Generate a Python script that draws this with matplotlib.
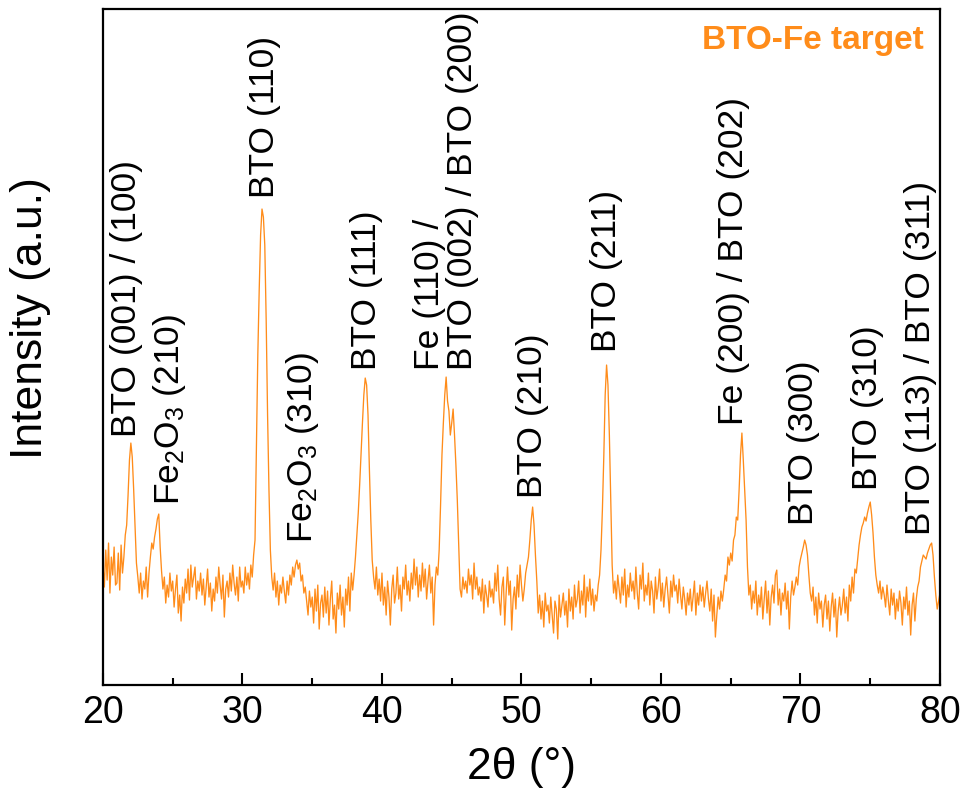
import numpy as np
import matplotlib
matplotlib.use("Agg")
import matplotlib.pyplot as plt
from matplotlib.ticker import MultipleLocator

# ---------------- data ----------------
two_theta = np.round(np.arange(20.0, 80.001, 0.1), 1)

intensity = [
    120, 98, 135, 105, 142, 92, 128, 110, 138, 100,      # 20
    102, 132, 95, 140, 112, 128, 150, 160, 190, 225,     # 21
    242, 228, 196, 160, 122, 108, 92, 112, 86, 104,      # 22
    96, 118, 88, 112, 128, 142, 136, 148, 156, 166,      # 23
    171, 138, 114, 96, 108, 82, 100, 88, 112, 94,        # 24
    104, 78, 96, 110, 72, 90, 64, 98, 82, 106,           # 25
    92, 116, 85, 120, 98, 108, 118, 86, 104, 94,         # 26
    112, 90, 106, 80, 98, 116, 88, 102, 74, 96,          # 27
    84, 108, 92, 118, 100, 86, 110, 68, 96, 104,         # 28
    88, 112, 94, 120, 102, 90, 108, 84, 118, 98,         # 29
    104, 92, 118, 100, 112, 96, 120, 108, 130, 145,      # 30
    235, 330, 395, 450, 476, 468, 440, 365, 270, 195,    # 31
    135, 108, 95, 112, 88, 104, 80, 100, 92, 108,        # 32
    94, 82, 104, 90, 110, 100, 118, 108, 120, 125,       # 33
    116, 122, 104, 110, 92, 98, 84, 70, 94, 78,          # 34
    88, 62, 96, 74, 100, 56, 82, 90, 68, 98,             # 35
    72, 94, 60, 86, 104, 66, 80, 52, 92, 76,             # 36
    100, 70, 88, 58, 96, 80, 108, 74, 112, 95,           # 37
    110, 128, 150, 172, 200, 232, 262, 290, 307, 300,    # 38
    270, 215, 165, 125, 108, 96, 118, 90, 106, 84,       # 39
    112, 80, 98, 70, 104, 88, 60, 96, 110, 82,           # 40
    92, 118, 86, 100, 74, 108, 96, 120, 90, 104,         # 41
    84, 112, 96, 126, 100, 118, 88, 110, 94, 122,        # 42
    98, 116, 86, 104, 120, 92, 108, 60, 100, 118,        # 43
    110, 135, 180, 230, 262, 290, 308, 284, 274, 250,    # 44
    262, 276, 250, 220, 185, 140, 96, 88, 108, 96,       # 45
    104, 92, 116, 100, 110, 86, 122, 96, 108, 90,        # 46
    98, 84, 106, 72, 100, 90, 78, 104, 88, 96,           # 47
    82, 112, 94, 120, 86, 70, 98, 108, 60, 92,           # 48
    118, 90, 104, 55, 86, 98, 76, 110, 88, 120,          # 49
    100, 84, 96, 112, 120, 128, 145, 165, 178, 160,      # 50
    130, 104, 72, 90, 66, 84, 58, 92, 74, 80,            # 51
    62, 88, 70, 52, 84, 76, 46, 90, 68, 80,              # 52
    92, 70, 84, 58, 96, 74, 88, 66, 100, 78,             # 53
    86, 104, 72, 94, 80, 110, 68, 98, 84, 106,           # 54
    80, 96, 74, 90, 84, 100, 110, 135, 175, 228,         # 55
    290, 320, 300, 250, 185, 120, 92, 104, 86, 110,      # 56
    96, 82, 108, 90, 116, 78, 100, 88, 112, 94,          # 57
    104, 86, 118, 92, 76, 110, 96, 122, 84, 100,         # 58
    90, 112, 80, 104, 94, 72, 108, 86, 98, 116,          # 59
    84, 102, 78, 96, 108, 90, 72, 104, 88, 110,          # 60
    94, 100, 82, 106, 90, 76, 98, 86, 70, 92,            # 61
    80, 96, 74, 88, 104, 70, 92, 80, 100, 84,            # 62
    98, 78, 92, 104, 86, 74, 96, 64, 90, 48,             # 63
    70, 88, 76, 94, 84, 96, 110, 104, 128, 120,          # 64
    132, 124, 145, 150, 168, 165, 195, 230, 252, 225,    # 65
    195, 165, 118, 90, 100, 76, 94, 82, 104, 70,         # 66
    90, 78, 98, 66, 86, 104, 72, 94, 60, 88,             # 67
    100, 82, 110, 115, 80, 96, 70, 92, 84, 102,          # 68
    76, 94, 56, 88, 104, 90, 98, 108, 100, 118,          # 69
    126, 132, 138, 145, 140, 130, 110, 92, 84, 98,       # 70
    70, 88, 62, 92, 76, 84, 58, 80, 90, 66,              # 71
    84, 54, 78, 92, 68, 86, 48, 74, 88, 70,              # 72
    80, 96, 72, 88, 64, 100, 84, 108, 92, 116,           # 73
    112, 126, 140, 150, 158, 162, 168, 164, 172, 178,    # 74
    183, 170, 152, 128, 110, 100, 92, 104, 86, 98,       # 75
    90, 78, 100, 84, 70, 96, 80, 92, 66, 86,             # 76
    74, 94, 82, 60, 88, 76, 98, 70, 84, 50,              # 77
    80, 92, 64, 86, 98, 104, 118, 124, 130, 128,         # 78
    126, 132, 136, 140, 142, 130, 108, 90, 76, 84,       # 79
    92,                                                  # 80
]

peak_labels = [
    "BTO (001) / (100)",
    "Fe$_2$O$_3$ (210)",
    "BTO (110)",
    "Fe$_2$O$_3$ (310)",
    "BTO (111)",
    "Fe (110) /\nBTO (002) / BTO (200)",
    "BTO (210)",
    "BTO (211)",
    "Fe (200) / BTO (202)",
    "BTO (300)",
    "BTO (310)",
    "BTO (113) / BTO (311)",
]
label_x = [21.7, 24.8, 31.6, 34.3, 38.9, 44.6, 50.8, 56.1, 65.2, 70.2, 74.8, 78.6]
label_y = [248, 180, 487, 142, 315, 315, 187, 333, 260, 160, 195, 150]

x_ticks = [20, 30, 40, 50, 60, 70, 80]
sample_name = "BTO-Fe target"

# ---------------- style ----------------
ORANGE = "#FF8C1A"
plt.rcParams["font.family"] = ["Liberation Sans", "DejaVu Sans"]
plt.rcParams["mathtext.default"] = "regular"

fig = plt.figure(figsize=(9.64, 8.05), dpi=100)
ax = fig.add_axes([0.1068, 0.149, 0.8683, 0.8398])

ax.plot(two_theta, intensity, color=ORANGE, lw=0.95)

ax.set_xlim(20, 80)
ax.set_ylim(0, 676)
ax.set_xticks(x_ticks)
ax.xaxis.set_minor_locator(MultipleLocator(5))
ax.set_yticks([])
ax.tick_params(axis="x", which="major", direction="in", length=9, width=1.5,
               pad=7, labelsize=27, top=False)
ax.tick_params(axis="x", which="minor", direction="in", length=5, width=1.5, top=False)
for sp in ax.spines.values():
    sp.set_linewidth(1.6)

ax.set_xlabel("2θ (°)", fontsize=32, labelpad=12)
ax.set_ylabel("Intensity (a.u.)", fontsize=32)
ax.yaxis.set_label_coords(-0.062, 0.543)

for txt, xv, yv in zip(peak_labels, label_x, label_y):
    ax.text(xv, yv, txt, rotation=90, ha="center", va="bottom",
            fontsize=25.5, multialignment="left", linespacing=1.0)

ax.text(0.98, 0.976, sample_name, transform=ax.transAxes, ha="right", va="top",
        fontsize=24, fontweight="bold", color=ORANGE)

fig.savefig("out.png", dpi=100)
